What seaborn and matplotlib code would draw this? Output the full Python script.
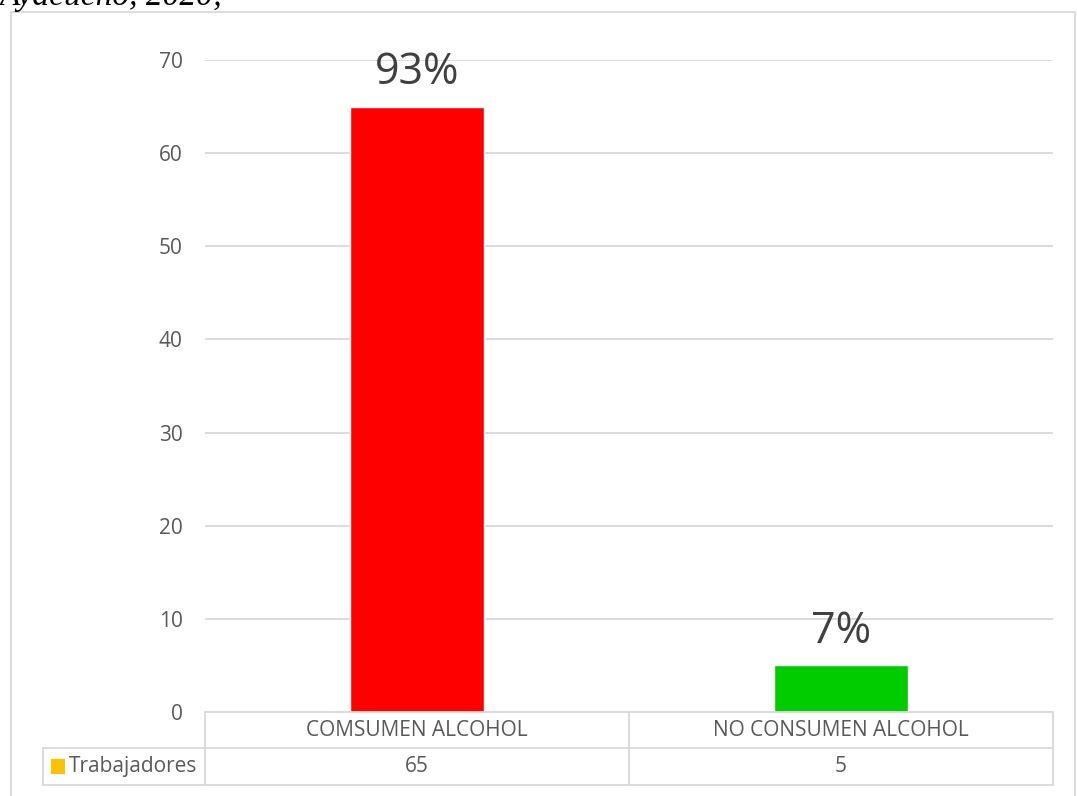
import matplotlib
matplotlib.use("Agg")
import matplotlib.pyplot as plt
import matplotlib.transforms as mtransforms
import pandas as pd
import seaborn as sns

# data
categories = ["COMSUMEN ALCOHOL", "NO CONSUMEN ALCOHOL"]
trabajadores = [65, 5]
pct_labels = ["93%", "7%"]
bar_colors = ["#FF0000", "#00CC00"]
series_name = "Trabajadores"
series_color = "#FFC000"
yticks = [0, 10, 20, 30, 40, 50, 60, 70]
title_text = "Ayacucho, 2020;"

W, H = 1077, 796
grid_c = "#D9D9D9"
text_c = "#595959"
fs = 15


def fy(py):
    # pixel row (from top) -> figure fraction
    return 1 - py / H


def fx(px):
    return px / W


sns.set_theme(style="white")
plt.rcParams["font.family"] = ["Open Sans", "DejaVu Sans"]

fig = plt.figure(figsize=(W / 100, H / 100), dpi=100)
ax = fig.add_axes([fx(205), fy(712), fx(1053) - fx(205), fy(60) - fy(712)])

df = pd.DataFrame({"cat": categories, "val": trabajadores})
sns.barplot(data=df, x="cat", y="val", hue="cat", palette=bar_colors,
            width=0.316, legend=False, ax=ax, zorder=3, saturation=1)

ax.set_xlim(-0.5, 1.5)
ax.set_ylim(0, 70)
ax.set_yticks(yticks)
ax.yaxis.grid(True, color=grid_c, linewidth=1.3, zorder=0)
ax.set_axisbelow(True)
for s in ax.spines.values():
    s.set_visible(False)
ax.set_xticks([])
ax.set_xlabel("")
ax.set_ylabel("")
ax.tick_params(axis="y", length=0, pad=16, labelsize=fs, labelcolor=text_c)

for i, (v, lab) in enumerate(zip(trabajadores, pct_labels)):
    ax.text(i, v + 1.2, lab, ha="center", va="bottom", fontsize=31,
            color="#404040", clip_on=False)

# data table under the axis
bt = mtransforms.blended_transform_factory(ax.transData, fig.transFigure)
lw = 1.3
y_top, y_mid, y_bot = fy(712), fy(748), fy(785)
fig.add_artist(plt.Line2D([-0.5, 1.5], [y_top, y_top], transform=bt, color=grid_c, lw=lw))
fig.add_artist(plt.Line2D([fx(43), fx(1053)], [y_mid, y_mid], transform=fig.transFigure, color=grid_c, lw=lw))
fig.add_artist(plt.Line2D([fx(43), fx(1053)], [y_bot, y_bot], transform=fig.transFigure, color=grid_c, lw=lw))
fig.add_artist(plt.Line2D([fx(43), fx(43)], [y_mid, y_bot], transform=fig.transFigure, color=grid_c, lw=lw))
for xb in [-0.5, 0.5, 1.5]:
    fig.add_artist(plt.Line2D([xb, xb], [y_top, y_bot], transform=bt, color=grid_c, lw=lw))

for i, (c, v) in enumerate(zip(categories, trabajadores)):
    fig.text(i, (y_top + y_mid) / 2, c, transform=bt, ha="center", va="center",
             fontsize=fs, color=text_c)
    fig.text(i, (y_mid + y_bot) / 2, str(v), transform=bt, ha="center", va="center",
             fontsize=fs, color=text_c)

fig.add_artist(plt.Rectangle((fx(51), fy(774)), fx(14), fy(759) - fy(774),
                             transform=fig.transFigure, color=series_color, lw=0))
fig.text(fx(69), (y_mid + y_bot) / 2, series_name, ha="left", va="center",
         fontsize=fs, color=text_c)

# outer chart border
fig.add_artist(plt.Rectangle((fx(11), fy(800)), fx(1075) - fx(11), fy(12) - fy(800),
                             transform=fig.transFigure, fill=False, ec=grid_c, lw=1.3))

# caption cut off at the top of the image (as in the reference)
fig.text(fx(0), fy(5), title_text, ha="left", va="baseline", fontsize=24,
         style="italic", family="Liberation Serif", color="black")

fig.savefig("out.png", dpi=100)
